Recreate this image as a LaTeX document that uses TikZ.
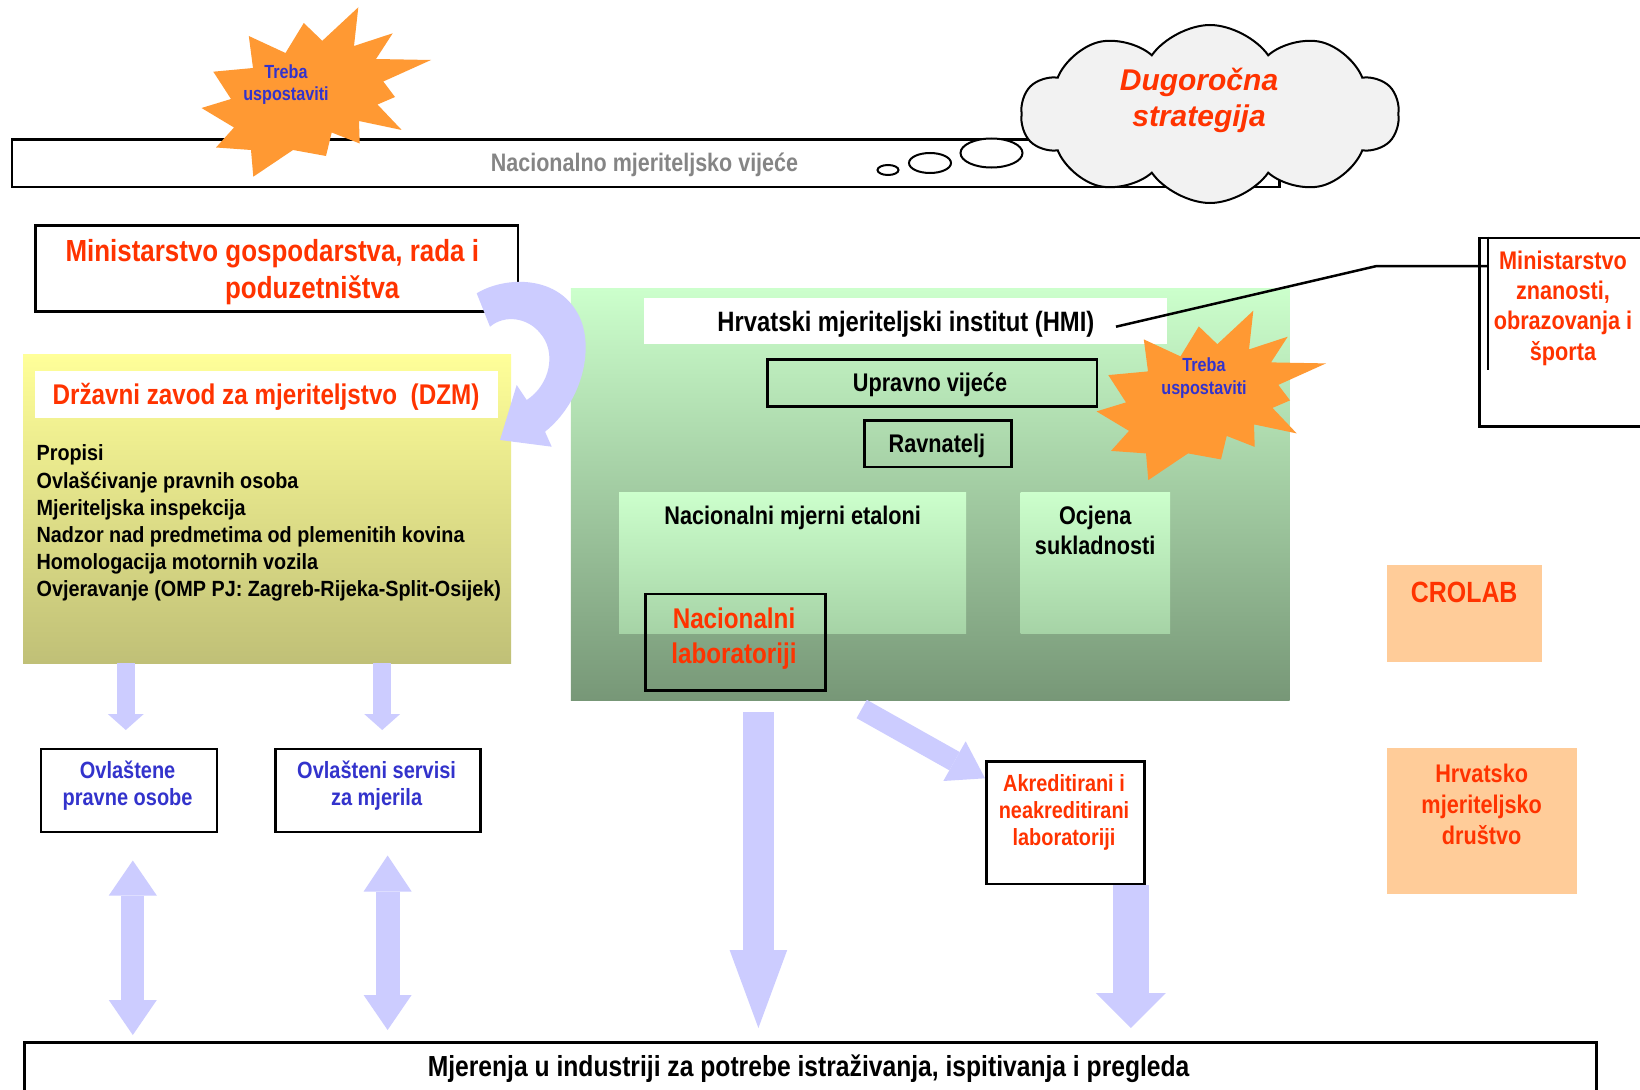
\documentclass[tikz,border=0pt]{standalone}
\usepackage{fontspec}
\newfontfamily\fn[FakeStretch=0.85]{Liberation Sans}
\newfontfamily\fl[FakeStretch=0.9]{Liberation Sans}
\newfontfamily\fw{Liberation Sans}
\usetikzlibrary{shapes.symbols,arrows.meta}
\definecolor{red1}{HTML}{FF3300}
\definecolor{blu1}{HTML}{3333CC}
\definecolor{lav}{HTML}{CCCCFF}
\definecolor{org}{HTML}{FF9933}
\definecolor{peach}{HTML}{FFCC99}
\definecolor{cloudgray}{HTML}{F2F2F2}
\definecolor{gtop}{HTML}{CCFFCC}
\definecolor{gmid}{HTML}{A8D2A8}
\definecolor{gbot}{HTML}{779777}
\definecolor{gin}{HTML}{A6D3A6}
\definecolor{ytop}{HTML}{FFFF99}
\definecolor{ybot}{HTML}{C0C077}
\definecolor{gtext}{HTML}{858585}
\newcommand{\fsz}[2]{\fontsize{#1}{#2}\selectfont}
\newcommand{\starburst}[2]{%
  \fill[org, shift={(#1,#2)}] (358.3,7.3) -- (354,46) -- (392.7,33.3) -- (376,59) -- (431,60)
    -- (383.3,81.5) -- (395,97) -- (377.5,104.5) -- (401.7,130) -- (359,121) -- (359.7,143.5)
    -- (331.7,132.5) -- (326,156) -- (293,150) -- (253.3,176.7) -- (251,150) -- (216,147.5)
    -- (234,127.5) -- (201.5,108) -- (231,99) -- (213.3,71.7) -- (253,68) -- (248.8,36)
    -- (285.5,53) -- (303.8,23) -- (322.3,40.8) -- cycle;}
\begin{document}
\begin{tikzpicture}[x=1pt,y=-1pt,
  bx/.style={draw=black,line width=2.5pt,fill=white,inner sep=0pt,anchor=north west},
  plain/.style={inner sep=0pt,anchor=north west},
  tx/.style={inner sep=0pt,align=center},
  lavar/.style={draw=lav,line cap=butt}]
\useasboundingbox (0,0) rectangle (1640,1089);
\fill[white] (0,0) rectangle (1640,1089);
\clip (0,0) rectangle (1640,1089);

% ---------- top bar, thought bubbles, cloud ----------
\node[bx, minimum width=1267.5pt, minimum height=47.4pt] (bar) at (10.5,138.3) {};
\draw[line width=2pt, fill=white] (888,170) ellipse [x radius=10.5pt, y radius=5pt];
\draw[line width=2pt, fill=white] (930,163) ellipse [x radius=21pt, y radius=10pt];
\draw[line width=2pt, fill=white] (991.5,153) ellipse [x radius=31pt, y radius=14.5pt];
\node[cloud, cloud puffs=10, cloud puff arc=110, aspect=2.1, draw=black, line width=2pt,
      fill=cloudgray, minimum width=378pt, minimum height=178pt, inner sep=0pt] (cloud) at (1210,114) {};
\node[tx, text=red1, font=\fw\bfseries\itshape\fsz{30}{36}] (tdug) at (1199,100.9) {Dugoročna\\strategija};
\node[tx, anchor=base, text=gtext, font=\fn\bfseries\fsz{25.3}{30}] (tnmv) at (644.5,171.7) {Nacionalno mjeriteljsko vijeće};

% ---------- first starburst ----------
\starburst{0}{0}
\node[tx, text=blu1, font=\fn\bfseries\fsz{19}{21.7}] (ttr1) at (286,84.9) {Treba\\uspostaviti};

% ---------- Ministarstvo gospodarstva ----------
\node[bx, minimum width=482.7pt, minimum height=86pt] (mg) at (34,224) {};
\node[tx, align=left, anchor=west, text=red1, font=\fn\bfseries\fsz{30.5}{36.6}] (tmg) at (65.4,272)
  {Ministarstvo gospodarstva, rada i\\\hspace*{159.5pt}poduzetništva};

% ---------- DZM ----------
\node[plain, minimum width=488pt, minimum height=309pt, top color=ytop, bottom color=ybot] (dzm) at (23,354) {};
\node[plain, fill=white, minimum width=462.5pt, minimum height=47pt] (dzmt) at (35,371) {};
\node[tx, anchor=base, text=red1, font=\fn\bfseries\fsz{28.5}{34}] (tdzm) at (266,404) {Državni zavod za mjeriteljstvo \ (DZM)};
\node[tx, align=left, anchor=west, font=\fl\bfseries\fsz{22}{27.2}] (tlist) at (36.4,523.2)
  {Propisi\\Ovlašćivanje pravnih osoba\\Mjeriteljska inspekcija\\Nadzor nad predmetima od plemenitih kovina\\Homologacija motornih vozila\\Ovjeravanje (OMP PJ: Zagreb-Rijeka-Split-Osijek)};

% ---------- HMI ----------
\node[plain, minimum width=718.8pt, minimum height=412.7pt, top color=gtop, middle color=gmid, bottom color=gbot] (hmi) at (570.7,288) {};
\node[plain, fill=white, minimum width=523pt, minimum height=46pt] (hmit) at (644,298) {};
\node[tx, anchor=base, font=\fn\bfseries\fsz{28}{33}] (thmi) at (905.9,331.7) {Hrvatski mjeriteljski institut (HMI)};
\node[bx, fill=none, minimum width=329.6pt, minimum height=47pt] (uv) at (766,358) {};
\node[tx, anchor=base, font=\fn\bfseries\fsz{25.5}{30}] (tuv) at (930,391) {Upravno vijeće};
\node[bx, fill=none, minimum width=147pt, minimum height=46.7pt] (rv) at (863,419) {};
\node[tx, anchor=base, font=\fn\bfseries\fsz{25.5}{30}] (trv) at (936.9,452.3) {Ravnatelj};
\node[plain, minimum width=347pt, minimum height=141pt, top color=gtop, bottom color=gin] (ne) at (619,492) {};
\node[tx, anchor=base, font=\fn\bfseries\fsz{25.5}{30}] (tne) at (792.7,524) {Nacionalni mjerni etaloni};
\node[plain, minimum width=149.3pt, minimum height=141pt, top color=gtop, bottom color=gin] (oc) at (1020.5,492) {};
\node[tx, font=\fn\bfseries\fsz{25.5}{30.7}] (toc) at (1095.2,530.3) {Ocjena\\sukladnosti};
\node[bx, fill=none, minimum width=180pt, minimum height=96.3pt] (nl) at (644,592.7) {};
\node[tx, text=red1, font=\fn\bfseries\fsz{28.5}{35}] (tnl) at (734,638.4) {Nacionalni\\laboratoriji};

% ---------- curved arrow ----------
\fill[lav] (476.7,293.3) .. controls (505,276) and (560,274) .. (580,318)
  .. controls (594,350) and (582,402) .. (545,431.7) -- (551.7,446.7) -- (500,440) -- (516.7,385)
  -- (526.7,400) .. controls (550,385) and (557,352) .. (540,333)
  .. controls (528,318) and (505,314) .. (490,326.7) -- cycle;

% ---------- second starburst ----------
\starburst{895}{303.4}
\node[tx, text=blu1, font=\fn\bfseries\fsz{19}{23}] (ttr2) at (1204,377.6) {Treba\\uspostaviti};

% ---------- Ministarstvo znanosti ----------
\node[bx, minimum width=200pt, minimum height=188.5pt] (mz) at (1478,236.5) {};
\coordinate (mzi) at (1488,236.5);
\draw[line width=2.5pt] (mzi) -- ++(0,133.1);
\coordinate (lk1) at (1116,326.7);
\coordinate (lk2) at (1376.7,266);
\draw[line width=2.5pt] (lk1) -- (lk2) -- (mzi |- lk2);
\node[tx, text=red1, font=\fn\bfseries\fsz{25.5}{30.4}] (tmz) at (1563,308.2) {Ministarstvo\\znanosti,\\obrazovanja i\\športa};

% ---------- CROLAB, HMD ----------
\node[plain, fill=peach, minimum width=154.7pt, minimum height=97pt] (cro) at (1387,565) {};
\node[tx, anchor=base, text=red1, font=\fn\bfseries\fsz{29.3}{34}] (tcro) at (1464.2,602.5) {CROLAB};
\node[plain, fill=peach, minimum width=189.7pt, minimum height=146pt] (hmd) at (1387,748) {};
\node[tx, text=red1, font=\fn\bfseries\fsz{25.5}{30.7}] (thmd) at (1481.7,804.2) {Hrvatsko\\mjeriteljsko\\društvo};

% ---------- lower boxes ----------
\node[bx, minimum width=175.8pt, minimum height=83pt] (ovl) at (39.7,747.7) {};
\node[tx, text=blu1, font=\fn\bfseries\fsz{23.5}{27.4}] (tovl) at (127.6,785.9) {Ovlaštene\\pravne osobe};
\node[bx, minimum width=205pt, minimum height=83pt] (ovs) at (274,747.7) {};
\node[tx, text=blu1, font=\fn\bfseries\fsz{23.5}{27.4}] (tovs) at (376.6,785.9) {Ovlašteni servisi\\za mjerila};
\node[bx, minimum width=158pt, minimum height=122.7pt] (akr) at (985,760) {};
\node[tx, text=red1, font=\fn\bfseries\fsz{23.4}{27.3}] (takr) at (1064,812.3) {Akreditirani i\\neakreditirani\\laboratoriji};
\node[bx, minimum width=1572pt, minimum height=60pt] (bot) at (23,1041) {};
\node[tx, anchor=base, font=\fn\bfseries\fsz{29}{34}] (tbot) at (808.6,1076.7) {Mjerenja u industriji za potrebe istraživanja, ispitivanja i pregleda};

% ---------- block arrows ----------
\coordinate (a1) at (125.8,0);
\coordinate (a2) at (382.2,0);
\coordinate (d1) at (132.8,0);
\coordinate (d2) at (387.6,0);
\coordinate (a3) at (758.4,0);
\coordinate (a4) at (1130.8,0);
\coordinate (dg) at (861.7,709);
\draw[lavar, line width=18.3pt, -{Triangle[width=36pt,length=16pt,line width=0pt]}, shorten >=17.7pt] (dzm.south -| a1) -- (ovl.north -| a1);
\draw[lavar, line width=18.3pt, -{Triangle[width=36pt,length=16pt,line width=0pt]}, shorten >=17.7pt] (dzm.south -| a2) -- (ovs.north -| a2);
\draw[lavar, line width=23pt, {Triangle[width=48pt,length=35pt,line width=0pt]}-{Triangle[width=48pt,length=35pt,line width=0pt]}, shorten <=27.3pt, shorten >=6pt] (ovl.south -| d1) -- (bot.north -| d1);
\draw[lavar, line width=24pt, {Triangle[width=48pt,length=36pt,line width=0pt]}-{Triangle[width=48pt,length=35pt,line width=0pt]}, shorten <=22.3pt, shorten >=11pt] (ovs.south -| d2) -- (bot.north -| d2);
\draw[lavar, line width=30.4pt, -{Triangle[width=57.6pt,length=78pt,line width=0pt]}, shorten <=11.3pt, shorten >=13pt] (hmi.south -| a3) -- (bot.north -| a3);
\draw[lavar, line width=35.5pt, -{Triangle[width=70pt,length=35pt,line width=0pt]}, shorten >=13pt] (akr.south -| a4) -- (bot.north -| a4);
\draw[lavar, line width=21pt, -{Triangle[width=45.5pt,length=35pt,line width=0pt]}] (dg) -- ([yshift=-18.3pt]akr.north west);
\end{tikzpicture}
\end{document}
